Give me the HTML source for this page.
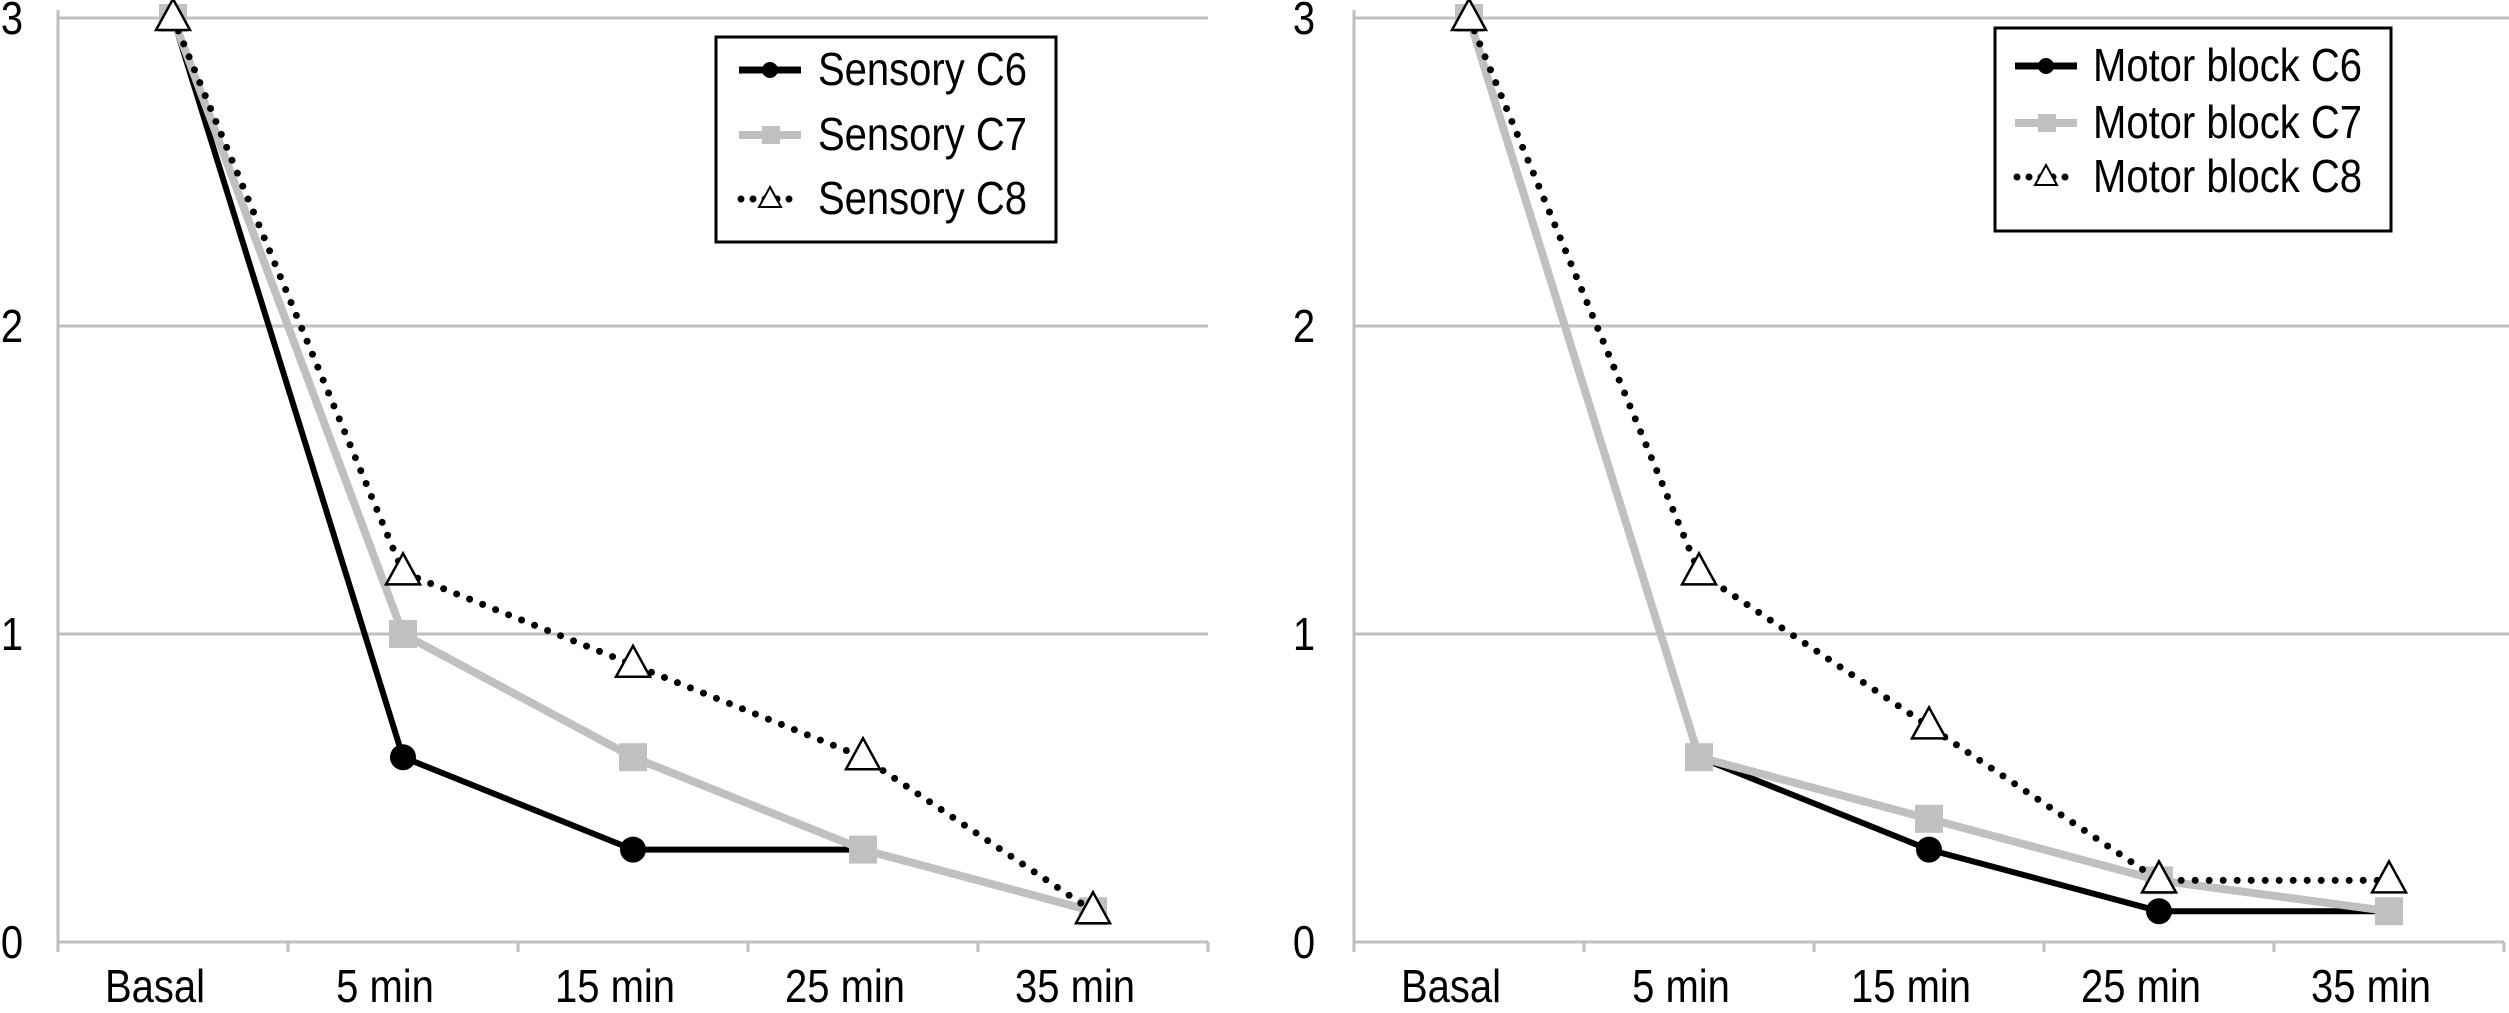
<!DOCTYPE html>
<html><head><meta charset="utf-8"><style>
html,body{margin:0;padding:0;background:#fff;}
svg{display:block;font-family:"Liberation Sans",Arial,sans-serif;}
</style></head><body>
<svg id="chart" width="2509" height="1013" viewBox="0 0 2509 1013"></svg>
<script>
const categories = ["Basal","5 min","15 min","25 min","35 min"];
const yTicks = [0,1,2,3];
const leftNames = ["Sensory C6","Sensory C7","Sensory C8"];
const leftC6 = [3,0.6,0.3,0.3,0.1];
const leftC7 = [3,1,0.6,0.3,0.1];
const leftC8 = [3,1.2,0.9,0.6,0.1];
const rightNames = ["Motor block C6","Motor block C7","Motor block C8"];
const rightC6 = [3,0.6,0.3,0.1,0.1];
const rightC7 = [3,0.6,0.4,0.2,0.1];
const rightC8 = [3,1.2,0.7,0.2,0.2];

const NS="http://www.w3.org/2000/svg";
const svg=document.getElementById('chart');
function mk(tag,attrs,parent){const e=document.createElementNS(NS,tag);for(const k in attrs)e.setAttribute(k,attrs[k]);(parent||svg).appendChild(e);return e;}
const Y0=942,Y3=18;
function yScale(v){return Y0-(Y0-Y3)*v/3;}
const GRAY="#c0c0c0";
const texts=[];

function panel(cfg){
  const g=mk('g',{});
  
  
  const band=230;
  const xScale=i=>cfg.axisX+band*(i+0.5);
  yTicks.forEach(t=>{
    if(t>0){const l=mk('line',{x1:cfg.axisX,x2:cfg.gridEnd,y1:yScale(t),y2:yScale(t),stroke:GRAY,'stroke-width':3},g);
    
    }
    const tx=mk('text',{x:cfg.labelX,y:yScale(t)+16,'font-size':40,'text-anchor':'middle',fill:'#000'},g);
    tx.textContent=t;
    
    
    texts.push(tx);
  });
  const ya=mk('line',{x1:cfg.axisX,x2:cfg.axisX,y1:Y3-8,y2:Y0,stroke:GRAY,'stroke-width':3},g);
  
  
  const xa=mk('line',{x1:cfg.axisX,x2:cfg.axisX+band*categories.length,y1:Y0,y2:Y0,stroke:GRAY,'stroke-width':3},g);
  
  
  for(let i=0;i<=categories.length;i++){
    const tk=mk('line',{x1:cfg.axisX+band*i,x2:cfg.axisX+band*i,y1:Y0,y2:Y0+10,stroke:GRAY,'stroke-width':3},g);
    
    
  }
  categories.forEach((c,i)=>{
    const tx=mk('text',{x:xScale(i)-18,y:1002,'font-size':40,'text-anchor':'middle',fill:'#000'},g);
    tx.textContent=c;
    
    
    texts.push(tx);
  });
  const pts=arr=>arr.map((v,i)=>xScale(i)+','+yScale(v)).join(' ');
  const s6=mk('polyline',{points:pts(cfg.c6),fill:'none',stroke:'#000','stroke-width':6,'stroke-linejoin':'round'},g);
  
  
  cfg.c6.forEach((v,i)=>{const m=mk('circle',{cx:xScale(i),cy:yScale(v),r:13,fill:'#000'},g);
    
    });
  const s7=mk('polyline',{points:pts(cfg.c7),fill:'none',stroke:GRAY,'stroke-width':8,'stroke-linejoin':'round'},g);
  
  
  cfg.c7.forEach((v,i)=>{const m=mk('rect',{x:xScale(i)-14,y:yScale(v)-14,width:28,height:28,fill:GRAY},g);
    
    });
  const s8=mk('polyline',{points:pts(cfg.c8),fill:'none',stroke:'#000','stroke-width':7,'stroke-dasharray':'0 14','stroke-linecap':'round'},g);
  
  
  cfg.c8.forEach((v,i)=>{const x=xScale(i),y=yScale(v);
    const m=mk('polygon',{points:`${x},${y-19} ${x-17},${y+12} ${x+17},${y+12}`,fill:'#fff',stroke:'#000','stroke-width':2.5},g);
    
    });
  const L=cfg.legend;
  const lg=mk('g',{},g);
  
  
  mk('rect',{x:L.x,y:L.y,width:L.w,height:L.h,fill:'#fff',stroke:'#000','stroke-width':3},lg);
  cfg.names.forEach((n,k)=>{
    const yy=L.rows[k];
    if(k===0){mk('line',{x1:L.sx,x2:L.sx+62,y1:yy,y2:yy,stroke:'#000','stroke-width':7},lg);mk('circle',{cx:L.sx+31,cy:yy,r:8,fill:'#000'},lg);}
    if(k===1){mk('line',{x1:L.sx,x2:L.sx+62,y1:yy,y2:yy,stroke:GRAY,'stroke-width':8},lg);mk('rect',{x:L.sx+23,y:yy-9,width:18,height:18,fill:GRAY},lg);}
    if(k===2){mk('line',{x1:L.sx+2,x2:L.sx+62,y1:yy,y2:yy,stroke:'#000','stroke-width':7,'stroke-dasharray':'0 12','stroke-linecap':'round'},lg);
      const x=L.sx+31;mk('polygon',{points:`${x},${yy-12} ${x-11},${yy+8} ${x+11},${yy+8}`,fill:'#fff',stroke:'#000','stroke-width':2},lg);}
    const t=mk('text',{x:L.tx,y:yy+15,'font-size':40,fill:'#000'},lg);
    t.textContent=n;
    
    
    texts.push(t);
  });
}
panel({name:'sensory-chart',axisX:58,gridEnd:1208,labelX:12,c6:leftC6,c7:leftC7,c8:leftC8,names:leftNames,
  legend:{x:716,y:37,w:340,h:205,sx:739,tx:818,rows:[70,135,199]}});
panel({name:'motor-chart',axisX:1354,gridEnd:2509,labelX:1304,c6:rightC6,c7:rightC7,c8:rightC8,names:rightNames,
  legend:{x:1995,y:28,w:396,h:203,sx:2015,tx:2093,rows:[66,123,177]}});
// condensed tall text: keep width of 40px text, render at 46px
texts.forEach(t=>{const w=t.getComputedTextLength();t.setAttribute('font-size',46);t.setAttribute('textLength',w);t.setAttribute('lengthAdjust','spacingAndGlyphs');});
</script>
</body></html>
